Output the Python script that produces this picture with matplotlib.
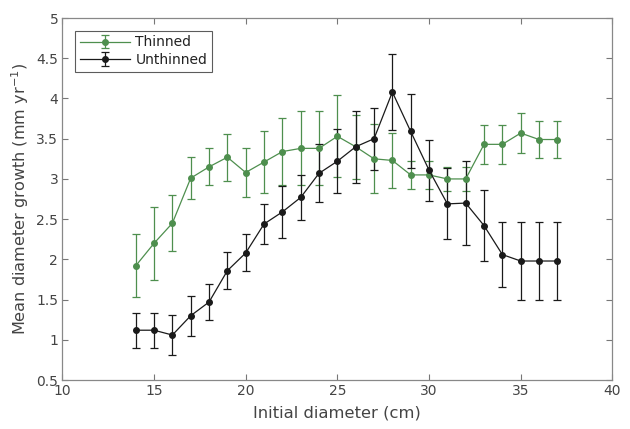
import matplotlib
matplotlib.use("Agg")
import matplotlib.pyplot as plt

diameter = [14, 15, 16, 17, 18, 19, 20, 21, 22, 23, 24, 25, 26, 27, 28, 29, 30, 31, 32, 33, 34, 35, 36, 37]

thinned_mean = [1.92, 2.20, 2.45, 3.01, 3.15, 3.27, 3.08, 3.21, 3.34, 3.38, 3.38, 3.53, 3.40, 3.25, 3.23, 3.05, 3.05, 3.00, 3.00, 3.43, 3.43, 3.57, 3.49, 3.49]
thinned_err = [0.39, 0.45, 0.35, 0.26, 0.23, 0.29, 0.31, 0.39, 0.42, 0.46, 0.46, 0.51, 0.40, 0.43, 0.34, 0.17, 0.17, 0.15, 0.15, 0.24, 0.24, 0.25, 0.235, 0.235]

unthinned_mean = [1.12, 1.12, 1.06, 1.30, 1.47, 1.86, 2.08, 2.44, 2.59, 2.77, 3.07, 3.22, 3.40, 3.50, 4.08, 3.59, 3.11, 2.69, 2.70, 2.42, 2.06, 1.98, 1.98, 1.98]
unthinned_err = [0.22, 0.22, 0.245, 0.25, 0.225, 0.23, 0.23, 0.245, 0.32, 0.28, 0.36, 0.40, 0.45, 0.385, 0.47, 0.46, 0.38, 0.44, 0.52, 0.44, 0.40, 0.49, 0.49, 0.49]

x_ticks = [10, 15, 20, 25, 30, 35, 40]
y_ticks = [0.5, 1, 1.5, 2, 2.5, 3, 3.5, 4, 4.5, 5]
y_tick_labels = ["0.5", "1", "1.5", "2", "2.5", "3", "3.5", "4", "4.5", "5"]

green = "#4e8f4e"
black = "#1a1a1a"
gray = "#444444"

fig = plt.figure(figsize=(6.30, 4.29), dpi=100)
ax = fig.add_axes([0.099, 0.114, 0.873, 0.844])

ax.errorbar(diameter, thinned_mean, yerr=thinned_err, color=green, marker="o",
            markersize=4, linewidth=0.9, elinewidth=0.9, capsize=2.6, capthick=0.9,
            label="Thinned")
ax.errorbar(diameter, unthinned_mean, yerr=unthinned_err, color=black, marker="o",
            markersize=4, linewidth=0.9, elinewidth=0.9, capsize=2.6, capthick=0.9,
            label="Unthinned")

ax.set_xlim(10, 40)
ax.set_ylim(0.5, 5)
ax.set_xticks(x_ticks)
ax.set_yticks(y_ticks)
ax.set_yticklabels(y_tick_labels)
ax.tick_params(direction="in", top=True, right=True, length=4, width=0.8,
               colors="#777777", labelcolor=gray, labelsize=10, pad=3)
for s in ax.spines.values():
    s.set_color("#888888")
    s.set_linewidth(0.9)

ax.set_xlabel("Initial diameter (cm)", fontsize=11.8, color=gray, labelpad=5)
ax.set_ylabel("Mean diameter growth (mm yr$^{-1}$)", fontsize=11.6, color=gray, labelpad=4)

leg = ax.legend(loc="upper left", fontsize=10, frameon=True, fancybox=False,
                edgecolor="#333333", borderaxespad=0.9, handlelength=3.6,
                borderpad=0.35, labelspacing=0.25, handletextpad=0.4)
leg.get_frame().set_linewidth(0.8)
for t in leg.get_texts():
    t.set_color("#222222")

fig.savefig("out.png", dpi=100)
